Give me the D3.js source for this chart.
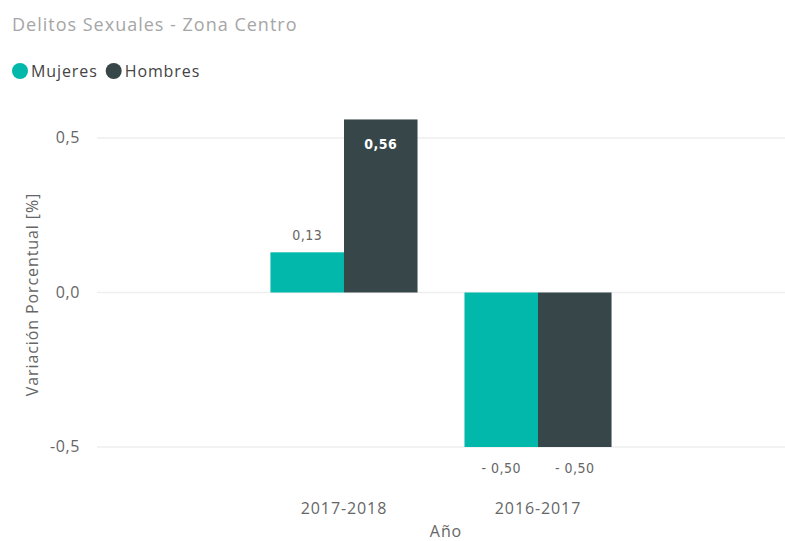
<!DOCTYPE html>
<html>
<head>
<meta charset="utf-8">
<script src="https://cdn.jsdelivr.net/npm/d3@7"></script>
<style>
  body { margin: 0; background: #fff; }
  svg text { font-family: "Open Sans", "Segoe UI", sans-serif; }
</style>
</head>
<body>
<div id="chart"></div>
<script>
const years = ['2017-2018', '2016-2017'];
const series = ['Mujeres', 'Hombres'];
const mujeres = [0.13, -0.50];
const hombres = [0.56, -0.50];
const yTicks = [-0.5, 0, 0.5];
const colors = ['#01B8AA', '#374649'];

let width = 785,
    height = 541;

const locale = d3.formatLocale({ decimal: ',', thousands: '.', grouping: [3], currency: ['', '€'], minus: '-' });
const fmt1 = locale.format('.1f'),
      fmt2 = locale.format('.2f');

const rows = years.map((y, i) => ({ year: y, values: [mujeres[i], hombres[i]] }));

let x = d3.scaleBand()
    .domain(years)
    .range([97, 785])
    .paddingInner(0.242)
    .paddingOuter(0.894);

let xs = d3.scaleBand()
    .domain(series)
    .range([0, x.bandwidth()]);

let y = d3.scaleLinear()
    .domain([-0.5, 0.5])
    .range([447, 138]);

const svg = d3.select('#chart')
    .append('svg')
        .attr('width', width)
        .attr('height', height);

// title
svg.append('text')
    .attr('x', 12)
    .attr('y', 31)
    .attr('font-size', 18)
    .style('letter-spacing', '1px')
    .style('fill', '#a6a6a6')
    .text('Delitos Sexuales - Zona Centro');

// legend
const legend = svg.append('g');
let lx = 12;
series.forEach((s, i) => {
    legend.append('circle')
        .attr('cx', lx + 8)
        .attr('cy', 71)
        .attr('r', 8)
        .style('fill', colors[i]);
    const t = legend.append('text')
        .attr('x', lx + 19)
        .attr('y', 77)
        .attr('font-size', 16)
        .style('letter-spacing', '0.9px')
        .style('fill', '#444')
        .text(s);
    lx += 19 + t.node().getComputedTextLength() + 8;
});

// gridlines + y axis labels
svg.append('g')
    .selectAll('line').data(yTicks)
    .enter().append('line')
        .attr('x1', 97)
        .attr('x2', 785)
        .attr('y1', d => y(d))
        .attr('y2', d => y(d))
        .style('stroke', '#eeeeee')
        .style('stroke-width', 1.5);

svg.append('g')
    .selectAll('text').data(yTicks)
    .enter().append('text')
        .attr('x', 80)
        .attr('y', d => y(d) + 5)
        .attr('text-anchor', 'end')
        .attr('font-size', 16)
        .style('letter-spacing', '0.6px')
        .style('fill', '#666')
        .text(d => fmt1(d));

// y axis title
svg.append('text')
    .attr('transform', 'translate(38,' + (y(0) + 2) + ') rotate(-90)')
    .attr('text-anchor', 'middle')
    .attr('font-size', 16)
    .style('letter-spacing', '0.9px')
    .style('fill', '#666')
    .text('Variación Porcentual [%]');

// bars
const groups = svg.selectAll('g.year').data(rows)
    .enter().append('g')
        .attr('class', 'year')
        .attr('transform', d => 'translate(' + x(d.year) + ',0)');

groups.selectAll('rect')
    .data(d => d.values.map((v, i) => ({ key: series[i], v: v, i: i })))
    .enter().append('rect')
        .attr('x', d => xs(d.key))
        .attr('width', xs.bandwidth())
        .attr('y', d => y(Math.max(0, d.v)))
        .attr('height', d => Math.abs(y(d.v) - y(0)))
        .style('fill', d => colors[d.i]);

// data labels
groups.selectAll('text')
    .data(d => d.values.map((v, i) => ({ key: series[i], v: v, i: i })))
    .enter().append('text')
        .attr('x', d => xs(d.key) + xs.bandwidth() / 2)
        .attr('y', d => {
            if (d.v < 0) return y(d.v) + 26;
            if (y(d.v) < 150) return y(d.v) + 30;
            return y(d.v) - 12;
        })
        .attr('text-anchor', 'middle')
        .attr('font-size', 14)
        .style('font-family', '"DejaVu Sans Condensed", sans-serif')
        .style('font-weight', d => (d.v > 0 && y(d.v) < 150) ? 'bold' : 'normal')
        .style('letter-spacing', '0.5px')
        .style('fill', d => (d.v > 0 && y(d.v) < 150) ? '#ffffff' : '#666')
        .text(d => (d.v < 0 ? '- ' + fmt2(-d.v) : fmt2(d.v)));

// x axis labels
svg.append('g')
    .selectAll('text').data(years)
    .enter().append('text')
        .attr('x', d => x(d) + x.bandwidth() / 2)
        .attr('y', 514)
        .attr('text-anchor', 'middle')
        .attr('font-size', 16)
        .style('letter-spacing', '0.9px')
        .style('fill', '#666')
        .text(d => d);

svg.append('text')
    .attr('x', 446)
    .attr('y', 537)
    .attr('text-anchor', 'middle')
    .attr('font-size', 16)
    .style('letter-spacing', '0.9px')
    .style('fill', '#666')
    .text('Año');
</script>
</body>
</html>
